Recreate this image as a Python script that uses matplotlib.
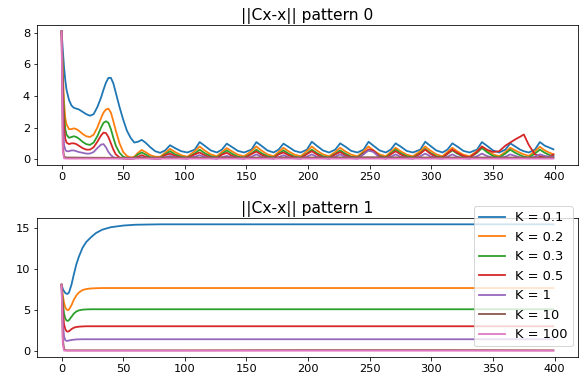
import matplotlib
matplotlib.use("Agg")
import matplotlib.pyplot as plt

labels = ["K = 0.1", "K = 0.2", "K = 0.3", "K = 0.5", "K = 1", "K = 10", "K = 100"]
titles = ["||Cx-x|| pattern 0", "||Cx-x|| pattern 1"]

# ---------------- pattern 0 (top) ----------------
x_top = [0, 1, 2, 3, 4, 6, 8, 10, 12, 14, 17, 20, 23, 26, 29, 32, 34, 36, 38, 40, 42, 44, 47, 50, 53, 56, 59, 62, 65, 68, 72, 76, 80,
         84, 88, 92, 97, 102,
         108, 112, 116, 121, 126,
         130, 134, 138, 143, 148,
         154, 158, 162, 167, 172,
         176, 180, 184, 189, 194,
         199, 203, 207, 212, 217,
         222, 226, 230, 235, 240,
         245, 249, 253, 258, 263,
         267, 271, 275, 280, 285,
         291, 295, 299, 304, 309,
         313, 317, 321, 326, 331,
         337, 341, 345, 350, 355,
         360, 364, 368, 372, 375, 379,
         384, 388, 392, 396, 399]

top_k01 = [8.1, 6.9, 5.8, 5.0, 4.4, 3.75, 3.4, 3.25, 3.2, 3.15, 3.0, 2.85, 2.75, 2.85, 3.3, 3.9, 4.4, 4.85, 5.15, 5.15, 4.8, 4.2, 3.3, 2.5, 1.8, 1.35, 1.05, 1.1, 1.22, 1.05, 0.75, 0.5, 0.4,
           0.55, 0.88, 0.7, 0.5, 0.42,
           0.6, 1.08, 0.85, 0.55, 0.42,
           0.6, 0.98, 0.78, 0.52, 0.42,
           0.6, 1.08, 0.85, 0.55, 0.42,
           0.6, 0.98, 0.78, 0.52, 0.42,
           0.6, 1.1, 0.85, 0.55, 0.42,
           0.6, 1.0, 0.8, 0.52, 0.42,
           0.6, 1.1, 0.85, 0.55, 0.42,
           0.6, 1.0, 0.8, 0.52, 0.42,
           0.6, 1.1, 0.85, 0.55, 0.42,
           0.6, 1.0, 0.8, 0.52, 0.42,
           0.6, 1.08, 0.85, 0.55, 0.42,
           0.6, 1.0, 0.8, 0.6, 0.5, 0.42,
           0.6, 1.08, 0.85, 0.72, 0.62]

top_k02 = [8.1, 5.5, 3.6, 2.6, 2.2, 1.9, 1.9, 1.95, 1.9, 1.8, 1.6, 1.45, 1.4, 1.55, 2.0, 2.6, 2.95, 3.15, 3.2, 2.95, 2.4, 1.8, 1.0, 0.45, 0.2, 0.1, 0.15, 0.4, 0.58, 0.45, 0.25, 0.15, 0.15,
           0.4, 0.65, 0.45, 0.25, 0.15,
           0.5, 0.8, 0.55, 0.3, 0.18,
           0.45, 0.7, 0.5, 0.28, 0.18,
           0.5, 0.8, 0.55, 0.3, 0.18,
           0.45, 0.72, 0.5, 0.28, 0.18,
           0.5, 0.8, 0.55, 0.3, 0.18,
           0.45, 0.72, 0.5, 0.28, 0.18,
           0.5, 0.8, 0.55, 0.3, 0.18,
           0.45, 0.72, 0.5, 0.28, 0.18,
           0.5, 0.8, 0.55, 0.3, 0.18,
           0.45, 0.72, 0.5, 0.28, 0.18,
           0.5, 0.8, 0.55, 0.3, 0.18,
           0.45, 0.72, 0.55, 0.4, 0.3, 0.2,
           0.5, 0.78, 0.55, 0.4, 0.3]

top_k03 = [8.1, 4.8, 2.8, 1.9, 1.55, 1.35, 1.4, 1.45, 1.4, 1.3, 1.1, 0.95, 0.9, 1.05, 1.45, 2.0, 2.3, 2.4, 2.3, 1.9, 1.35, 0.85, 0.4, 0.15, 0.08, 0.05, 0.1, 0.3, 0.42, 0.3, 0.12, 0.08, 0.08,
           0.3, 0.5, 0.3, 0.15, 0.08,
           0.35, 0.6, 0.38, 0.18, 0.1,
           0.33, 0.55, 0.35, 0.15, 0.1,
           0.35, 0.6, 0.38, 0.18, 0.1,
           0.33, 0.55, 0.35, 0.15, 0.1,
           0.35, 0.6, 0.38, 0.18, 0.1,
           0.33, 0.55, 0.35, 0.15, 0.1,
           0.4, 0.55, 0.5, 0.2, 0.1,
           0.35, 0.6, 0.38, 0.18, 0.1,
           0.38, 0.65, 0.4, 0.18, 0.1,
           0.33, 0.55, 0.35, 0.15, 0.1,
           0.4, 0.7, 0.45, 0.2, 0.1,
           0.35, 0.6, 0.4, 0.25, 0.15, 0.1,
           0.35, 0.6, 0.4, 0.25, 0.2]

top_k05 = [8.1, 4.0, 2.0, 1.3, 1.05, 0.95, 1.0, 1.0, 0.95, 0.85, 0.7, 0.6, 0.6, 0.75, 1.1, 1.5, 1.68, 1.65, 1.4, 1.0, 0.6, 0.3, 0.1, 0.05, 0.03, 0.03, 0.05, 0.15, 0.25, 0.15, 0.06, 0.04, 0.04,
           0.25, 0.35, 0.2, 0.08, 0.05,
           0.3, 0.42, 0.25, 0.1, 0.05,
           0.28, 0.4, 0.22, 0.08, 0.05,
           0.32, 0.48, 0.28, 0.1, 0.05,
           0.3, 0.42, 0.25, 0.1, 0.05,
           0.32, 0.5, 0.3, 0.1, 0.05,
           0.3, 0.45, 0.25, 0.1, 0.05,
           0.35, 0.62, 0.55, 0.15, 0.05,
           0.3, 0.5, 0.3, 0.1, 0.05,
           0.35, 0.6, 0.35, 0.12, 0.08,
           0.35, 0.6, 0.4, 0.2, 0.1,
           0.45, 0.8, 0.6, 0.45, 0.5,
           0.85, 1.05, 1.25, 1.42, 1.56, 0.9,
           0.3, 0.18, 0.15, 0.15, 0.3]

top_k1 = [8.1, 2.5, 0.9, 0.6, 0.5, 0.5, 0.55, 0.55, 0.5, 0.45, 0.4, 0.35, 0.35, 0.45, 0.7, 0.92, 0.95, 0.75, 0.45, 0.25, 0.12, 0.07, 0.05, 0.04, 0.03, 0.03, 0.04, 0.08, 0.12, 0.08, 0.04, 0.03, 0.03,
          0.12, 0.2, 0.12, 0.05, 0.03,
          0.15, 0.25, 0.15, 0.06, 0.03,
          0.12, 0.2, 0.12, 0.05, 0.03,
          0.15, 0.3, 0.15, 0.06, 0.03,
          0.12, 0.25, 0.12, 0.05, 0.03,
          0.15, 0.3, 0.15, 0.06, 0.03,
          0.15, 0.3, 0.15, 0.06, 0.03,
          0.3, 0.55, 0.45, 0.1, 0.03,
          0.15, 0.3, 0.15, 0.06, 0.03,
          0.18, 0.35, 0.18, 0.06, 0.03,
          0.15, 0.3, 0.15, 0.06, 0.03,
          0.18, 0.35, 0.2, 0.08, 0.05,
          0.15, 0.3, 0.2, 0.1, 0.08, 0.05,
          0.15, 0.3, 0.2, 0.15, 0.15]

x_top_k10 = [0, 1, 2, 4, 40, 88, 112, 158, 203, 249, 295, 341, 388, 399]
top_k10 = [8.1, 0.8, 0.15, 0.1, 0.08, 0.1, 0.1, 0.1, 0.1, 0.12, 0.1, 0.1, 0.1, 0.1]

x_top_k100 = [0, 1, 2, 4, 100, 200, 300, 399]
top_k100 = [8.1, 0.5, 0.05, 0.03, 0.03, 0.03, 0.03, 0.03]

# ---------------- pattern 1 (bottom) ----------------
x_bot = [0, 1, 2, 3, 4, 5, 6, 8, 10, 12, 14, 17, 20, 24, 28, 33, 40, 50, 60, 80, 120, 200, 300, 399]
bot_k01 = [8.1, 7.6, 7.3, 7.1, 7.0, 7.0, 7.15, 8.1, 9.4, 10.6, 11.5, 12.6, 13.3, 13.9, 14.4, 14.8, 15.1, 15.3, 15.4, 15.45, 15.45, 15.45, 15.45, 15.45]
bot_k02 = [8.1, 6.8, 5.9, 5.35, 5.1, 5.0, 5.1, 5.6, 6.3, 6.8, 7.15, 7.45, 7.58, 7.65, 7.68, 7.7, 7.7, 7.7, 7.7, 7.7, 7.7, 7.7, 7.7, 7.7]
bot_k03 = [8.1, 6.0, 4.6, 4.0, 3.75, 3.7, 3.8, 4.2, 4.6, 4.85, 4.98, 5.07, 5.1, 5.12, 5.12, 5.12, 5.12, 5.12, 5.12, 5.12, 5.12, 5.12, 5.12, 5.12]
bot_k05 = [8.1, 5.0, 3.3, 2.7, 2.45, 2.4, 2.45, 2.7, 2.88, 2.96, 3.0, 3.03, 3.05, 3.05, 3.05, 3.05, 3.05, 3.05, 3.05, 3.05, 3.05, 3.05, 3.05, 3.05]
bot_k1 = [8.1, 3.5, 1.8, 1.35, 1.27, 1.28, 1.32, 1.38, 1.42, 1.45, 1.46, 1.47, 1.47, 1.47, 1.47, 1.47, 1.47, 1.47, 1.47, 1.47, 1.47, 1.47, 1.47, 1.47]
x_bot_k10 = [0, 1, 2, 3, 4, 50, 100, 190, 255, 320, 399]
bot_k10 = [8.1, 1.5, 0.3, 0.15, 0.12, 0.12, 0.12, 0.15, 0.15, 0.15, 0.12]
x_bot_k100 = [0, 1, 2, 4, 100, 200, 300, 399]
bot_k100 = [8.1, 0.8, 0.1, 0.08, 0.08, 0.08, 0.08, 0.08]

colors = ["#1f77b4", "#ff7f0e", "#2ca02c", "#d62728", "#9467bd", "#8c564b", "#e377c2"]

W, H, DPI = 585, 387, 72
fig = plt.figure(figsize=(W / DPI, H / DPI), dpi=DPI)
ax1 = fig.add_axes([37 / W, 1 - 165 / H, (578 - 37) / W, (165 - 25) / H])
ax2 = fig.add_axes([37 / W, 1 - 357 / H, (578 - 37) / W, (357 - 218) / H])

lw = 1.8
top_series = [(x_top, top_k01), (x_top, top_k02), (x_top, top_k03), (x_top, top_k05),
              (x_top, top_k1), (x_top_k10, top_k10), (x_top_k100, top_k100)]
bot_series = [(x_bot, bot_k01), (x_bot, bot_k02), (x_bot, bot_k03), (x_bot, bot_k05),
              (x_bot, bot_k1), (x_bot_k10, bot_k10), (x_bot_k100, bot_k100)]

for (xs, ys), c, lab in zip(top_series, colors, labels):
    ax1.plot(xs, ys, color=c, lw=lw, label=lab)
for (xs, ys), c, lab in zip(bot_series, colors, labels):
    ax2.plot(xs, ys, color=c, lw=lw, label=lab)

ax1.set_yticks([0, 2, 4, 6, 8])
ax2.set_yticks([0, 5, 10, 15])
for ax, t in zip([ax1, ax2], titles):
    ax.set_xticks([0, 50, 100, 150, 200, 250, 300, 350, 400])
    ax.tick_params(labelsize=11.4)
    ax.set_title(t, fontsize=15.5, pad=5)

ax2.legend(loc="upper right", bbox_to_anchor=(573 / W, 1 - 206 / H),
           bbox_transform=fig.transFigure, fontsize=13, borderaxespad=0)

fig.savefig("out.png", dpi=DPI)
